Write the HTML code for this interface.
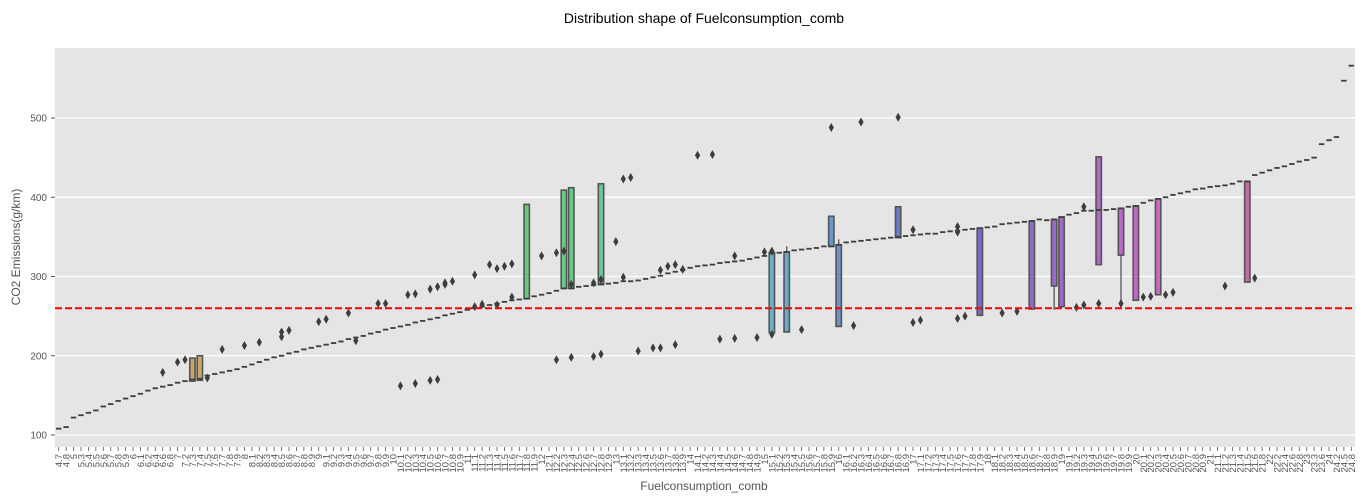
<!DOCTYPE html>
<html><head><meta charset="utf-8"><style>
html,body{margin:0;padding:0;background:#fff;}
svg{display:block;font-family:"Liberation Sans",sans-serif;}
</style></head><body>
<svg id="chart" width="1368" height="504" xmlns="http://www.w3.org/2000/svg">
<text x="704" y="23" text-anchor="middle" font-size="14" fill="#000">Distribution shape of Fuelconsumption_comb</text>
<rect x="55" y="48" width="1300" height="399" fill="#e5e5e5"/>
<g id="grid"></g><g id="marks"></g><g id="xaxis"></g><g id="yaxis"></g>
<text x="704" y="490" text-anchor="middle" font-size="12" fill="#555">Fuelconsumption_comb</text>
<text transform="translate(20,247) rotate(-90)" text-anchor="middle" font-size="12" fill="#555">CO2 Emissions(g/km)</text>
</svg>
<script>
const labels=[4.7,4.8,5,5.3,5.4,5.5,5.6,5.7,5.8,5.9,6,6.1,6.2,6.4,6.6,6.8,7,7.2,7.3,7.4,7.5,7.6,7.7,7.8,7.9,8,8.1,8.2,8.3,8.4,8.5,8.6,8.7,8.8,8.9,9,9.1,9.2,9.3,9.4,9.5,9.6,9.7,9.8,9.9,10,10.1,10.2,10.3,10.4,10.5,10.6,10.7,10.8,10.9,11,11.1,11.2,11.3,11.4,11.5,11.6,11.7,11.8,11.9,12,12.1,12.2,12.3,12.4,12.5,12.6,12.7,12.8,12.9,13,13.1,13.2,13.3,13.4,13.5,13.6,13.7,13.8,13.9,14,14.1,14.2,14.3,14.4,14.5,14.6,14.7,14.8,14.9,15,15.1,15.2,15.3,15.4,15.5,15.6,15.7,15.8,15.9,16,16.1,16.2,16.3,16.4,16.5,16.6,16.7,16.8,16.9,17,17.1,17.2,17.3,17.4,17.5,17.6,17.7,17.8,17.9,18,18.1,18.2,18.3,18.4,18.5,18.6,18.7,18.8,18.9,19,19.1,19.2,19.3,19.4,19.5,19.6,19.7,19.8,19.9,20,20.1,20.2,20.3,20.4,20.5,20.6,20.7,20.8,20.9,21,21.1,21.2,21.3,21.4,21.5,21.6,21.8,22,22.2,22.4,22.6,22.8,23,23.3,23.6,24,24.2,24.5,24.8];
const medians=[108,110,122,125,128,131,136,139,143,146,149,152,156,159,161,163,166,168,170,171,175,177,179,181,183,186,189,192,195,198,200,203,205,208,210,212,214,216,218,221,223,225,228,230,233,235,237,239,242,244,246,248,251,253,255,258,260,262,264,266,268,270,271,272,275,277,279,282,285,285,287,288,289,290,291,292,294,294,295,297,299,301,304,306,308,311,313,314,315,317,318,319,320,322,324,326,329,330,331,333,334,335,336,338,338,340,343,344,345,346,347,348,349,350,351,352,353,354,354,356,357,358,359,360,361,362,363,366,367,368,369,370,372,371,372,375,378,380,383,383,384,384,385,386,388,389,393,396,398,400,403,405,407,410,411,413,414,415,417,420,420,428,431,434,437,439,442,445,447,450,467,472,476,547,566];
const boxIdx=[18,19,63,68,69,73,96,98,104,105,113,124,131,134,135,140,143,145,148,160];
const boxQ1=[168,169,272,285,285,290,229,230,338,237,349,251,259,288,262,315,327,270,277,293];
const boxQ3=[197,200,391,409,412,417,330,331,376,340,388,361,370,372,375,451,386,389,398,420];
const whiskLo=[168,169,272,285,285,290,229,230,338,237,349,251,259,258,262,315,269,270,277,293];
const whiskHi=[197,200,391,409,412,417,330,338,376,347,388,361,370,372,375,451,386,389,398,420];
const flierIdx=[14,16,17,20,22,25,27,30,30,31,35,36,39,40,43,44,46,47,48,48,50,50,51,51,52,52,53,56,56,57,58,59,59,60,61,61,65,67,67,68,69,69,72,72,73,73,75,76,76,77,78,80,81,81,82,83,83,84,86,88,89,91,91,94,95,96,96,100,104,107,108,113,115,115,116,121,121,121,122,127,129,137,138,138,140,143,146,147,149,150,157,161];
const flierVal=[179,192,195,172,208,213,217,224,230,232,243,246,254,219,266,266,162,277,278,165,284,169,287,170,290,292,294,302,262,265,315,310,264,313,316,274,326,330,195,332,198,290,292,199,296,202,344,299,423,425,206,210,210,308,313,315,214,309,453,454,221,222,326,223,331,332,227,233,488,238,495,501,359,242,245,363,356,247,250,254,256,261,264,388,266,266,274,275,277,280,288,298];
const yTicks=[100,200,300,400,500];
const refValue=260;

const NS='http://www.w3.org/2000/svg';
const X0=55,W=1300,N=labels.length,band=W/N;
const xc=i=>X0+band*(i+0.5);
const yv=v=>435-(v-100)*0.7925;
function mk(tag,attrs,parent){const e=document.createElementNS(NS,tag);for(const k in attrs)e.setAttribute(k,attrs[k]);parent.appendChild(e);return e;}
const grid=document.getElementById('grid'),marks=document.getElementById('marks'),xa=document.getElementById('xaxis'),ya=document.getElementById('yaxis');
yTicks.forEach(t=>{
 const g=mk('line',{x1:55,x2:1355,y1:yv(t),y2:yv(t),stroke:'#fff','stroke-width':1.2},grid);
 
 
 const tk=mk('line',{x1:51,x2:55,y1:yv(t),y2:yv(t),stroke:'#555','stroke-width':1},ya);
 
 
 const tx=mk('text',{x:47,y:yv(t)+3.5,'text-anchor':'end','font-size':10,fill:'#555'},ya);
 tx.textContent=t;
 
 
});
const col=i=>`hsl(${(i*2.03)%360},48%,60%)`;
const boxSet={};boxIdx.forEach((b,k)=>boxSet[b]=k);
const hw=band*0.36;
for(let i=0;i<N;i++){
 const x=xc(i);
 if(boxSet[i]!==undefined){
  const k=boxSet[i];
  const wl=mk('line',{x1:x,x2:x,y1:yv(whiskLo[k]),y2:yv(whiskHi[k]),stroke:'#555','stroke-width':1.3},marks);
  
  
  const r=mk('rect',{x:x-hw,y:yv(boxQ3[k]),width:hw*2,height:yv(boxQ1[k])-yv(boxQ3[k]),fill:col(i),stroke:'#555','stroke-width':1.6},marks);
  
  
 }
 const m=mk('line',{x1:x-hw,x2:x+hw,y1:yv(medians[i]),y2:yv(medians[i]),stroke:'#3d3d3d','stroke-width':1.8},marks);
 
 
 const t=mk('line',{x1:x,x2:x,y1:447,y2:451,stroke:'#555','stroke-width':0.8},xa);
 
 
 const tx=mk('text',{transform:`translate(${x+3.5},454) rotate(-90)`,'text-anchor':'end','font-size':9.5,fill:'#555'},xa);
 tx.textContent=labels[i];
 
 
}
flierIdx.forEach((fi,k)=>{
 const x=xc(fi),y=yv(flierVal[k]);
 const p=mk('polygon',{points:`${x},${y-4.5} ${x+2.6},${y} ${x},${y+4.5} ${x-2.6},${y}`,fill:'#3d3d3d'},marks);
 
 
});
const ref=mk('line',{x1:55,x2:1355,y1:yv(refValue),y2:yv(refValue),stroke:'#ff0000','stroke-width':2,'stroke-dasharray':'7,3'},marks);


</script>
</body></html>
